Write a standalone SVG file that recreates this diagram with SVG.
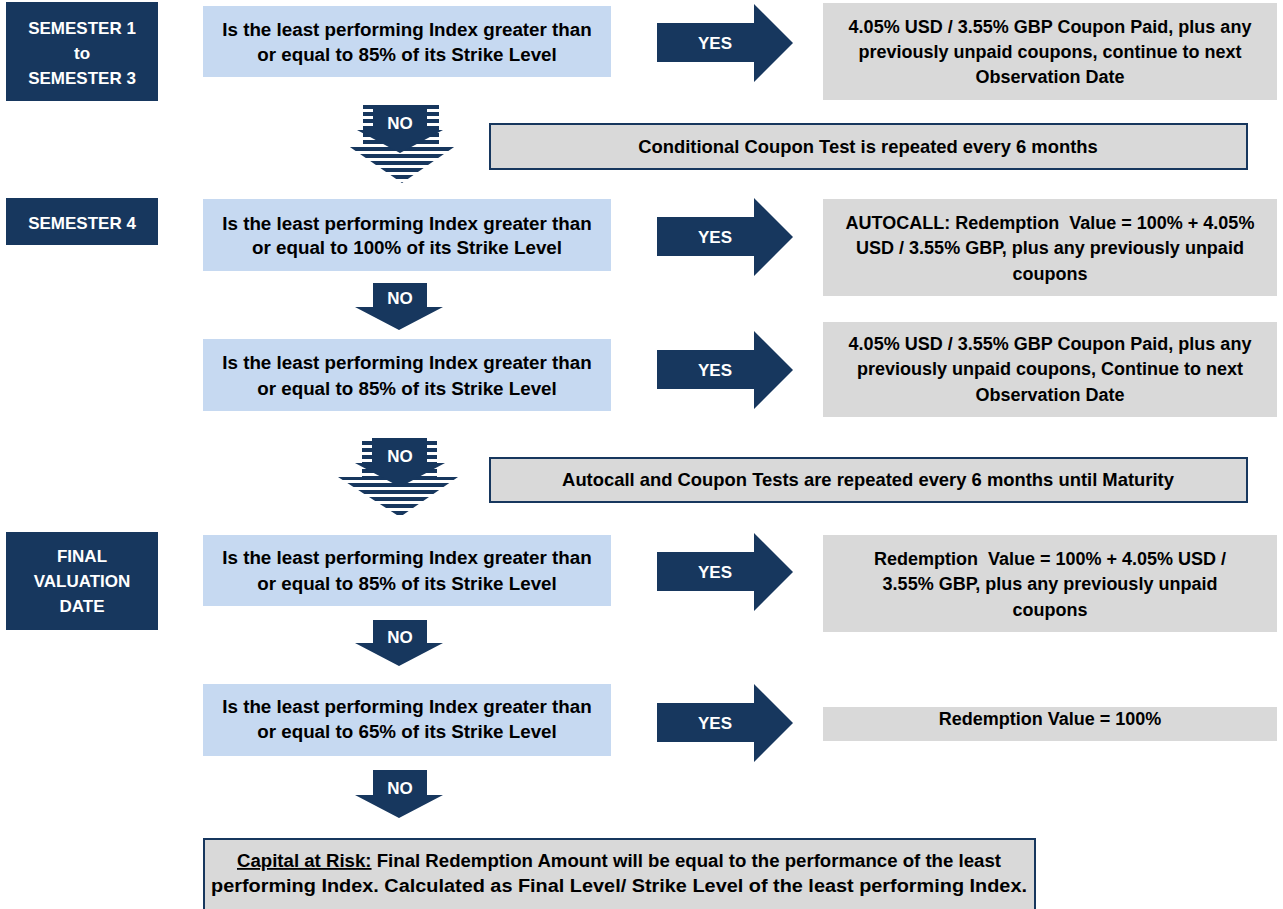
<svg xmlns="http://www.w3.org/2000/svg" width="1283" height="909" viewBox="0 0 1283 909">
<style>
text{font-family:"Liberation Sans",Arial,sans-serif;font-weight:bold;font-size:18px;text-anchor:middle;fill:#000}
.lbl{fill:#17375e}
.lt{fill:#fff;font-size:17px}
.q{fill:#c6d9f1}
.qt{font-size:18.8px}
.r{fill:#d9d9d9}
.w{fill:#d9d9d9;stroke:#17375e;stroke-width:2}
.wt{font-size:18.4px}
.arr{fill:#17375e}
.yes{fill:#fff;font-size:17px}
.stripe{fill:url(#stripes)}
</style>
<defs>
<pattern id="stripes" patternUnits="userSpaceOnUse" width="10" height="7">
<rect x="0" y="0" width="10" height="4" fill="#17375e"/>
</pattern>
</defs>
<rect width="1283" height="909" fill="#fff"/>

<g id="label-sem1-3">
<rect class="lbl" x="6" y="2" width="152" height="99"/>
<text class="lt" x="82" y="34">SEMESTER 1</text>
<text class="lt" x="82" y="59">to</text>
<text class="lt" x="82" y="84">SEMESTER 3</text>
</g>
<g id="label-sem4">
<rect class="lbl" x="6" y="198" width="152" height="47"/>
<text class="lt" x="82" y="229">SEMESTER 4</text>
</g>
<g id="label-final">
<rect class="lbl" x="6" y="532" width="152" height="98"/>
<text class="lt" x="82" y="562">FINAL</text>
<text class="lt" x="82" y="587">VALUATION</text>
<text class="lt" x="82" y="612">DATE</text>
</g>

<g id="q1">
<rect class="q" x="203" y="6" width="408" height="71"/>
<text class="qt" x="407" y="36">Is the least performing Index greater than</text>
<text class="qt" x="407" y="61">or equal to 85% of its Strike Level</text>
</g>
<g id="q2">
<rect class="q" x="203" y="199" width="408" height="72"/>
<text class="qt" x="407" y="230">Is the least performing Index greater than</text>
<text class="qt" x="407" y="254">or equal to 100% of its Strike Level</text>
</g>
<g id="q3">
<rect class="q" x="203" y="339" width="408" height="72"/>
<text class="qt" x="407" y="369">Is the least performing Index greater than</text>
<text class="qt" x="407" y="395">or equal to 85% of its Strike Level</text>
</g>
<g id="q4">
<rect class="q" x="203" y="535" width="408" height="71"/>
<text class="qt" x="407" y="564">Is the least performing Index greater than</text>
<text class="qt" x="407" y="590">or equal to 85% of its Strike Level</text>
</g>
<g id="q5">
<rect class="q" x="203" y="684" width="408" height="72"/>
<text class="qt" x="407" y="713">Is the least performing Index greater than</text>
<text class="qt" x="407" y="738">or equal to 65% of its Strike Level</text>
</g>

<g id="r1">
<rect class="r" x="823" y="3" width="454" height="97"/>
<text x="1050" y="33">4.05% USD / 3.55% GBP Coupon Paid, plus any</text>
<text x="1050" y="58">previously unpaid coupons, continue to next</text>
<text x="1050" y="83">Observation Date</text>
</g>
<g id="r2">
<rect class="r" x="823" y="199" width="454" height="97"/>
<text x="1050" y="229" xml:space="preserve">AUTOCALL: Redemption  Value = 100% + 4.05%</text>
<text x="1050" y="254">USD / 3.55% GBP, plus any previously unpaid</text>
<text x="1050" y="280">coupons</text>
</g>
<g id="r3">
<rect class="r" x="823" y="322" width="454" height="95"/>
<text x="1050" y="350">4.05% USD / 3.55% GBP Coupon Paid, plus any</text>
<text x="1050" y="375">previously unpaid coupons, Continue to next</text>
<text x="1050" y="401">Observation Date</text>
</g>
<g id="r4">
<rect class="r" x="823" y="535" width="454" height="97"/>
<text x="1050" y="565" xml:space="preserve">Redemption  Value = 100% + 4.05% USD /</text>
<text x="1050" y="590">3.55% GBP, plus any previously unpaid</text>
<text x="1050" y="616">coupons</text>
</g>
<g id="r5">
<rect class="r" x="823" y="707" width="454" height="34"/>
<text x="1050" y="725">Redemption Value = 100%</text>
</g>

<g id="note1">
<rect class="w" x="490" y="124" width="757" height="45"/>
<text class="wt" x="868" y="153">Conditional Coupon Test is repeated every 6 months</text>
</g>
<g id="note2">
<rect class="w" x="490" y="458" width="757" height="44"/>
<text class="wt" x="868" y="486">Autocall and Coupon Tests are repeated every 6 months until Maturity</text>
</g>
<g id="capital-at-risk">
<rect class="w" x="204" y="839" width="831" height="80"/>
<text x="619" y="867" textLength="764" lengthAdjust="spacingAndGlyphs"><tspan text-decoration="underline">Capital at Risk:</tspan> Final Redemption Amount will be equal to the performance of the least</text>
<text x="619" y="892" textLength="816" lengthAdjust="spacingAndGlyphs">performing Index. Calculated as Final Level/ Strike Level of the least performing Index.</text>
</g>

<g id="connectors">
<g id="yes1">
<path class="arr" d="M657,23 H754 V4 L793,43 L754,82 V62 H657 Z"/>
<text class="yes" x="715" y="49">YES</text>
</g>
<g id="yes2">
<path class="arr" d="M657,217 H754 V198 L793,237 L754,276 V256 H657 Z"/>
<text class="yes" x="715" y="243">YES</text>
</g>
<g id="yes3">
<path class="arr" d="M657,350 H754 V331 L793,370 L754,409 V389 H657 Z"/>
<text class="yes" x="715" y="376">YES</text>
</g>
<g id="yes4">
<path class="arr" d="M657,552 H754 V533 L793,572 L754,611 V591 H657 Z"/>
<text class="yes" x="715" y="578">YES</text>
</g>
<g id="yes5">
<path class="arr" d="M657,703 H754 V684 L793,723 L754,762 V742 H657 Z"/>
<text class="yes" x="715" y="729">YES</text>
</g>

<g id="no1">
<path class="stripe" d="M363,105 H439 V145 H457 L402,183 L347,145 H363 Z"/>
<path class="arr" d="M373,105 H427 V130 H443 L400,153 L357,130 H373 Z"/>
<text class="yes" x="400" y="129">NO</text>
</g>
<g id="no2">
<path class="arr" d="M373,283 H427 V307 H443 L399,330 L355,307 H373 Z"/>
<text class="yes" x="400" y="304">NO</text>
</g>
<g id="no3">
<path class="stripe" d="M362,438 H437 V477 H458 L400,517 L338,477 H362 Z"/>
<path class="arr" d="M372,438 H427 V463 H445 L400,487 L355,463 H372 Z"/>
<text class="yes" x="400" y="462">NO</text>
</g>
<g id="no4">
<path class="arr" d="M373,620 H427 V643 H443 L399,666 L355,643 H373 Z"/>
<text class="yes" x="400" y="643">NO</text>
</g>
<g id="no5">
<path class="arr" d="M373,770 H427 V795 H443 L399,818 L355,795 H373 Z"/>
<text class="yes" x="400" y="794">NO</text>
</g>
</g>
</svg>
